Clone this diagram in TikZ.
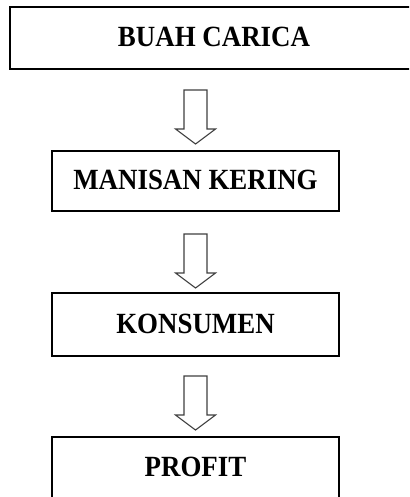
\documentclass[tikz,border=0pt]{standalone}
\usepackage{fontspec}
\setmainfont{Liberation Serif}
\usetikzlibrary{calc}
\tikzset{
  box/.style={draw=black, line width=2pt, fill=white, inner sep=0pt,
    font=\fontsize{26.9}{30}\bfseries\selectfont, text=black},
  blk/.style={draw=black!75, line width=1.1pt, line join=miter, fill=white}
}
\newcommand{\blockarrowfrom}[1]{%
  \draw[blk] (#1) ++(-11.5,0) -- ++(0,39) -- ++(-8.5,0) -- ++(20,15)
    -- ++(20,-15) -- ++(-8.5,0) -- ++(0,-39) -- cycle;}
\newcommand{\boxtext}[1]{\raisebox{1.8pt}{\scalebox{1}[1.09]{#1}}}
\begin{document}
\begin{tikzpicture}[x=1pt,y=-1pt]
\useasboundingbox (0,0) rectangle (409,497);
\fill[white] (0,0) rectangle (409,497);
\clip (0,0) rectangle (409,497);
\node[box, minimum width=408pt, minimum height=62pt] (b1) at (214,38)
  {\boxtext{BUAH CARICA}};
\node[box, minimum width=287pt, minimum height=60pt] (b2) at (195.5,181)
  {\boxtext{MANISAN KERING}};
\node[box, minimum width=287pt, minimum height=63pt] (b3) at (195.5,324.5)
  {\boxtext{KONSUMEN}};
\node[box, minimum width=287pt, minimum height=62pt] (b4) at (195.5,468)
  {\boxtext{PROFIT}};
\coordinate (a1) at ($(b1.south -| b2.center)+(0,20)$);
\coordinate (a2) at ($(b2.south)+(0,22)$);
\coordinate (a3) at ($(b3.south)+(0,19)$);
\blockarrowfrom{a1}
\blockarrowfrom{a2}
\blockarrowfrom{a3}
\end{tikzpicture}
\end{document}
